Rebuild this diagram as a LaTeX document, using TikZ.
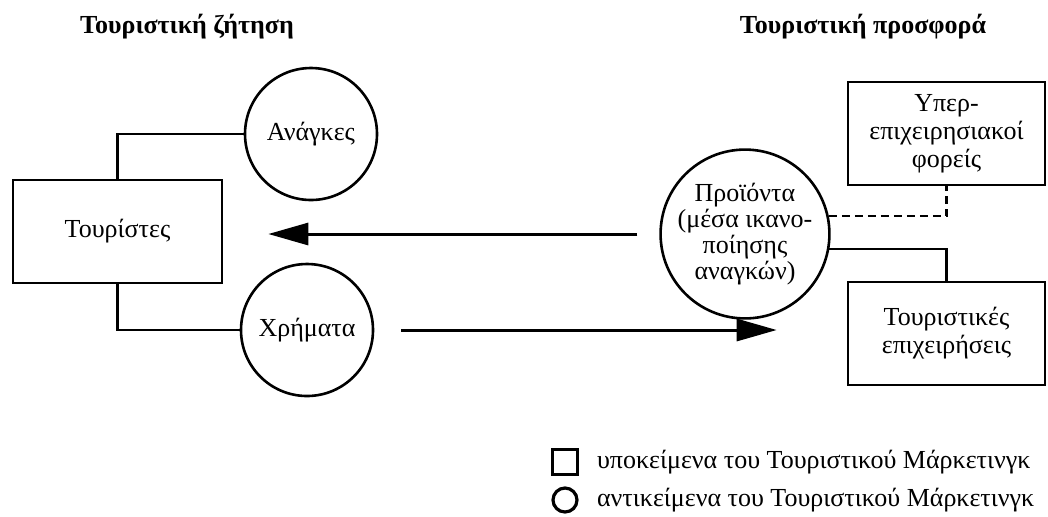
\documentclass[tikz,border=0pt]{standalone}
\usepackage{fontspec}
\setmainfont{Liberation Serif}
\usetikzlibrary{arrows.meta,positioning}
\tikzset{
  subj/.style={draw, line width=1.3pt, align=center},
  obj/.style={draw, circle, line width=1.3pt, align=center, inner sep=0pt},
  link/.style={line width=1.3pt},
  flow/.style={line width=1.5pt, -{Triangle[length=20pt,width=11pt]}},
  every node/.style={font=\fontsize{13}{14}\selectfont},
}

\begin{document}
\begin{tikzpicture}[x=0.5pt,y=-0.5pt]
		%%%%% START %%%%%
		\useasboundingbox (0,0) rectangle (1048,516);
		
		\node[font=\fontsize{13}{14}\selectfont\bfseries] (demand) at (187,27) {Τουριστική ζήτηση};
		\node[font=\fontsize{13}{14}\selectfont\bfseries] (supply) at (863,27) {Τουριστική προσφορά};
		
		\node[subj, minimum width=104.5pt, minimum height=51.5pt] (tourists) at (117.5,231.5) {Τουρίστες};
		\node[obj, minimum size=66pt] (needs) at (311,134) {Ανάγκες};
		\node[obj, minimum size=66pt] (money) at (307,330) {Χρήματα};
		\draw[link] (tourists.north) |- (needs.west);
		\draw[link] (tourists.south) |- (money.west);
		
		\node[obj, minimum size=77pt, font=\fontsize{13}{13}\selectfont] (products) at (745,234) {Προϊόντα\\(μέσα ικανο-\\ποίησης\\αναγκών)};
		\node[subj, minimum width=98.5pt, minimum height=51.5pt] (agencies) at (946.5,133.5) {Υπερ-\\επιχειρησιακοί\\φορείς};
		\node[subj, minimum width=98.5pt, minimum height=51.5pt] (firms) at (946.5,333.5) {Τουριστικές\\επιχειρήσεις};
		\draw[link, dash pattern=on 4pt off 2.5pt] (products.12) -| (agencies.south);
		\draw[link] (products.-10) -| (firms.north);
		
		\draw[flow] ([xshift=-11pt]products.west) -- ([xshift=22.5pt]tourists.east |- products.west);
		\draw[flow] ([xshift=13.5pt]money.east) -- ([xshift=-35pt]money.east -| firms.west);
		
		\node[subj, minimum size=12.5pt, inner sep=0pt, line width=1.3pt] (keysq) at (565,462) {};
		\node[anchor=west] (keysqtext) at (590,462) {υποκείμενα του Τουριστικού Μάρκετινγκ};
		\node[obj, minimum size=12pt, line width=1.6pt] (keycirc) at (565,500) {};
		\node[anchor=west] (keycirctext) at (590,500) {αντικείμενα του Τουριστικού Μάρκετινγκ};
		
		%%%%% END %%%%%
	\end{tikzpicture}
\end{document}
